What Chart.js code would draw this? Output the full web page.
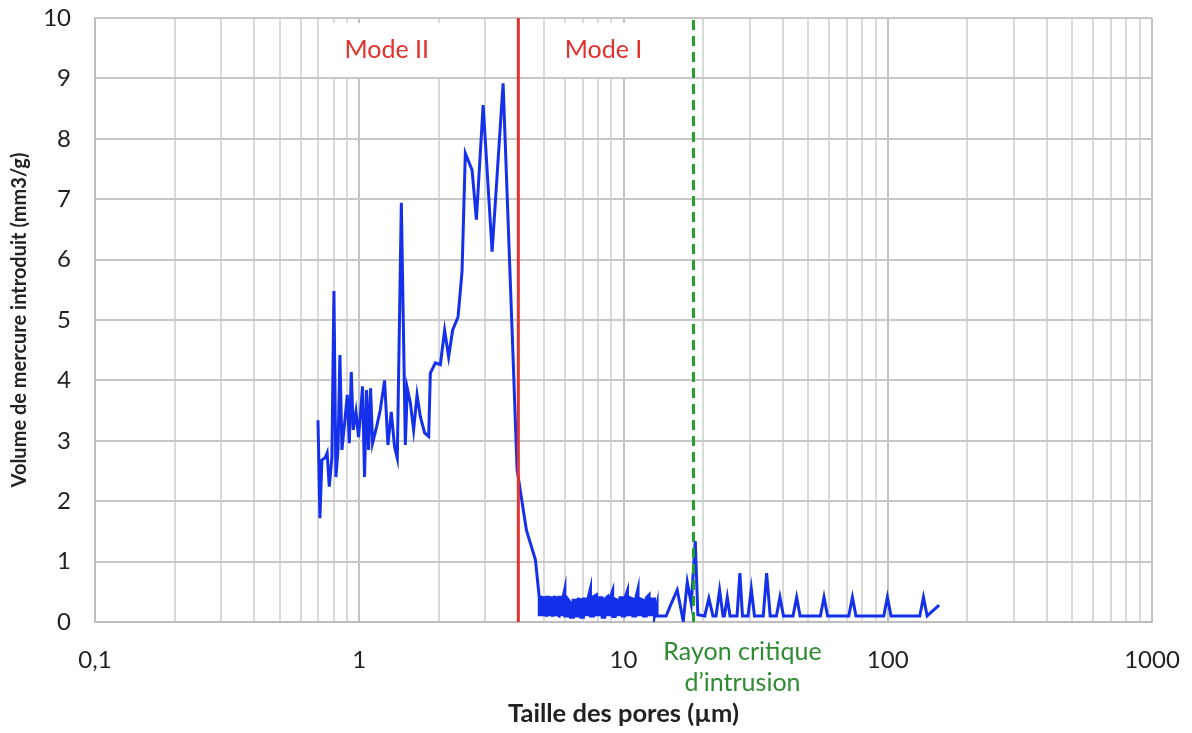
<!DOCTYPE html>
<html>
<head>
<meta charset="utf-8">
<script src="https://cdn.jsdelivr.net/npm/chart.js@4.4.1/dist/chart.umd.min.js"></script>
<style>
  body { margin: 0; background: #fff; }
  canvas { display: block; }
</style>
</head>
<body>
<canvas id="poreChart" width="1192" height="733"></canvas>
<script>
// pore size (µm), left to right.
// between ~4.8 and 13.4 µm the trace swings up and down at each size,
// so every size there is listed twice (top and bottom of the swing)
const poreSize = [
    0.698, 0.710, 0.722, 0.743, 0.756, 0.770, 0.788, 0.802, 0.816, 0.831,
    0.845, 0.860, 0.880, 0.901, 0.917, 0.933, 0.949, 0.972, 0.994, 1.009,
    1.029, 1.047, 1.066, 1.085, 1.104, 1.123, 1.163, 1.201, 1.247, 1.284,
    1.322, 1.360, 1.393, 1.443, 1.494, 1.520, 1.561, 1.606, 1.655, 1.703,
    1.768, 1.831, 1.858, 1.941, 2.027, 2.104, 2.179, 2.256, 2.365, 2.449,
    2.520, 2.673, 2.775, 2.943, 3.183, 3.502, 3.788, 3.957, 4.292, 4.642,
    4.8, 4.8, 4.9, 4.9, 5.0, 5.0, 5.1, 5.1, 5.2, 5.2, 5.3, 5.3,
    5.4, 5.4, 5.5, 5.5, 5.6, 5.6, 5.7, 5.7, 5.8, 5.8, 5.9, 5.9,
    6.0, 6.0, 6.15, 6.15, 6.3, 6.3, 6.45, 6.45, 6.6, 6.6, 6.75, 6.75,
    6.9, 6.9, 7.05, 7.05, 7.2, 7.2, 7.35, 7.35, 7.5, 7.5, 7.7, 7.7,
    7.9, 7.9, 8.1, 8.1, 8.3, 8.3, 8.5, 8.5, 8.7, 8.7, 8.9, 8.9,
    9.1, 9.1, 9.3, 9.3, 9.5, 9.5, 9.7, 9.7, 9.9, 9.9, 10.1, 10.1,
    10.35, 10.35, 10.6, 10.6, 10.85, 10.85, 11.1, 11.1, 11.35, 11.35, 11.6, 11.6,
    11.9, 11.9, 12.2, 12.2, 12.5, 12.5, 12.8, 12.8, 13.1, 13.1, 13.4, 13.4,
    13.8, 14.5, 15.07, 15.97, 16.83, 17.43, 18.05, 18.69, 19.11,
    20.3, 21.04, 21.8, 22.4, 23.1, 23.8, 24.1, 24.7, 25.3, 26.9, 27.57, 28.2,
    29.6, 30.45, 31.3, 33.8, 34.81, 35.9, 37.9, 39.08, 40.3, 43.8, 45.21, 46.6,
    55.6, 57.38, 59.2, 71.2, 73.5, 75.8, 96.6, 99.7, 102.9, 132.2, 136.5, 141,
    156.4
];

// mercury volume (mm3/g) for each pore size above
const volume = [
    3.34, 1.72, 2.68, 2.72, 2.80, 2.24, 2.73, 5.48, 2.40, 2.85,
    4.42, 2.85, 3.29, 3.76, 2.96, 4.14, 3.18, 3.48, 3.06, 3.40,
    3.90, 2.40, 3.84, 2.85, 3.87, 2.96, 3.23, 3.51, 4.00, 2.93,
    3.48, 2.90, 2.71, 6.94, 2.93, 3.87, 3.63, 3.18, 3.76, 3.40,
    3.13, 3.07, 4.12, 4.29, 4.26, 4.83, 4.39, 4.83, 5.05, 5.80,
    7.76, 7.48, 6.66, 8.56, 6.13, 8.92, 4.83, 2.52, 1.52, 1.03,
    0.41, 0.12, 0.12, 0.41, 0.40, 0.12, 0.11, 0.41, 0.41, 0.12, 0.12, 0.40,
    0.40, 0.11, 0.12, 0.41, 0.40, 0.12, 0.10, 0.41, 0.41, 0.12, 0.12, 0.40,
    0.55, 0.10, 0.10, 0.38, 0.32, 0.08, 0.08, 0.36, 0.36, 0.10, 0.10, 0.38,
    0.37, 0.08, 0.08, 0.38, 0.38, 0.12, 0.12, 0.40, 0.56, 0.10, 0.10, 0.42,
    0.45, 0.12, 0.12, 0.40, 0.40, 0.08, 0.08, 0.38, 0.42, 0.12, 0.12, 0.40,
    0.52, 0.09, 0.09, 0.38, 0.36, 0.12, 0.12, 0.40, 0.40, 0.10, 0.10, 0.38,
    0.52, 0.12, 0.12, 0.40, 0.38, 0.10, 0.10, 0.37, 0.55, 0.12, 0.12, 0.38,
    0.36, 0.10, 0.10, 0.40, 0.45, 0.12, 0.12, 0.38, 0.38, 0.10, 0.30, 0.10,
    0.10, 0.10, 0.28, 0.53, 0.01, 0.66, 0.30, 1.34, 0.12,
    0.10, 0.39, 0.10, 0.10, 0.53, 0.10, 0.10, 0.41, 0.10, 0.10, 0.81, 0.10,
    0.10, 0.55, 0.10, 0.10, 0.81, 0.10, 0.10, 0.41, 0.10, 0.10, 0.41, 0.10,
    0.10, 0.41, 0.10, 0.10, 0.41, 0.10, 0.10, 0.41, 0.10, 0.10, 0.41, 0.10,
    0.28
];

const modeLimit = 4.0;       // boundary Mode II / Mode I (µm)
const criticalRadius = 18.4; // rayon critique d'intrusion (µm)

const xDecades = [0.1, 1, 10, 100, 1000];
const yTicks = [0, 1, 2, 3, 4, 5, 6, 7, 8, 9, 10];

const FONT = 'Lato, "Open Sans", sans-serif';

// every 1..9 multiple per decade, for the minor grid
const xGridValues = [];
xDecades.slice(0, -1).forEach(d => {
    for (let m = 1; m <= 9; m++) xGridValues.push(+(d * m).toPrecision(3));
});
xGridValues.push(xDecades[xDecades.length - 1]);

const curve = poreSize.map((x, i) => ({ x: x, y: volume[i] }));

/* ---------------- Text labels in and around the plot ---------------- */
const labelPlugin = {
    id: 'labels',
    beforeDatasetsDraw(chart) {
        const { ctx, scales: { x, y } } = chart;
        ctx.save();
        ctx.font = '25px ' + FONT;
        ctx.textAlign = 'center';
        ctx.textBaseline = 'middle';
        [['Mode II', 1.27], ['Mode I', 8.4]].forEach(([txt, at]) => {
            const px = x.getPixelForValue(at);
            const py = y.getPixelForValue(9.47);
            const w = ctx.measureText(txt).width + 24;
            ctx.fillStyle = '#fff';
            ctx.fillRect(px - w / 2, py - 27, w, 54);
            ctx.fillStyle = '#e2302b';
            ctx.fillText(txt, px, py);
        });
        ctx.restore();
    },
    afterDraw(chart) {
        const { ctx, scales: { x } } = chart;
        ctx.save();
        ctx.font = '25px ' + FONT;
        ctx.textAlign = 'center';
        ctx.textBaseline = 'middle';
        ctx.fillStyle = '#2e8b30';
        const px = x.getPixelForValue(28.2);
        ctx.fillText('Rayon critique', px, 652);
        ctx.fillText('d\u2019intrusion', px, 683);
        ctx.restore();
    }
};

new Chart(document.getElementById('poreChart'), {
    type: 'scatter',
    data: {
        datasets: [
            {
                label: 'Mode limit',
                data: [{ x: modeLimit, y: 0 }, { x: modeLimit, y: 10 }],
                showLine: true,
                borderColor: '#e3342f',
                borderWidth: 3,
                pointRadius: 0
            },
            {
                label: 'Rayon critique',
                data: [{ x: criticalRadius, y: 0 }, { x: criticalRadius, y: 10 }],
                showLine: true,
                borderColor: '#22a12a',
                borderWidth: 3,
                borderDash: [10, 6],
                pointRadius: 0
            },
            {
                label: 'Volume',
                data: curve,
                showLine: true,
                borderColor: '#1530ea',
                borderWidth: 3,
                pointRadius: 0,
                tension: 0
            }
        ]
    },
    options: {
        responsive: false,
        animation: false,
        devicePixelRatio: 1,
        layout: { padding: { top: 18, right: 40, left: 0, bottom: 0 } },
        plugins: {
            legend: { display: false },
            tooltip: { enabled: false }
        },
        scales: {
            x: {
                type: 'logarithmic',
                min: 0.1,
                max: 1000,
                afterBuildTicks: scale => {
                    scale.ticks = xGridValues.map(v => ({ value: v }));
                },
                afterFit: scale => {
                    scale.height = 111;
                    scale.paddingLeft = 0;
                    scale.paddingRight = 0;
                },
                ticks: {
                    autoSkip: false,
                    maxRotation: 0,
                    padding: 24,
                    color: '#222',
                    font: { family: FONT, size: 24 },
                    callback: v => xDecades.includes(v) ? String(v).replace('.', ',') : ''
                },
                grid: {
                    drawTicks: false,
                    lineWidth: 2,
                    color: ctx => xDecades.includes(ctx.tick && ctx.tick.value) ? '#c2c2c2' : '#dadada'
                },
                border: { color: '#bdbdbd', width: 2 },
                title: {
                    display: true,
                    text: 'Taille des pores (µm)',
                    color: '#222',
                    font: { family: FONT, size: 25.5, weight: 'bold' },
                    padding: { top: 0, bottom: 4 }
                }
            },
            y: {
                min: 0,
                max: 10,
                afterBuildTicks: scale => {
                    scale.ticks = yTicks.map(v => ({ value: v }));
                },
                afterFit: scale => {
                    scale.width = 95;
                    scale.paddingTop = 0;
                    scale.paddingBottom = 0;
                },
                ticks: {
                    padding: 24,
                    color: '#222',
                    font: { family: FONT, size: 24 }
                },
                grid: {
                    drawTicks: false,
                    lineWidth: 2,
                    color: '#c8c8c8'
                },
                border: { color: '#bdbdbd', width: 2 },
                title: {
                    display: true,
                    text: 'Volume de mercure introduit (mm3/g)',
                    color: '#222',
                    font: { family: FONT, size: 20, weight: 'bold' },
                    padding: { top: 8, bottom: 6 }
                }
            }
        }
    },
    plugins: [labelPlugin]
});
</script>
</body>
</html>
